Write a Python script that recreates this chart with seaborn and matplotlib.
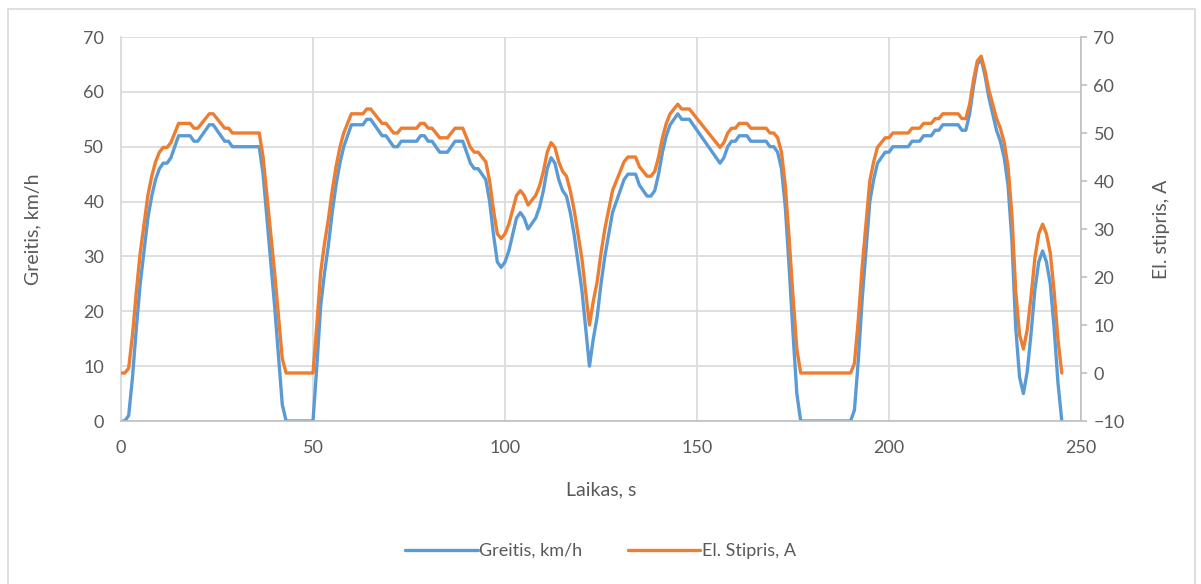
import numpy as np
import pandas as pd
import matplotlib
matplotlib.use("Agg")
import matplotlib.pyplot as plt
from matplotlib.patches import Rectangle
from matplotlib.lines import Line2D
import seaborn as sns

# ---- data ----
time_s = list(range(0, 246))

speed_kmh = [
    0, 0, 1, 8, 17, 25, 31, 37, 41, 44,            # 0-9
    46, 47, 47, 48, 50, 52, 52, 52, 52, 51,        # 10-19
    51, 52, 53, 54, 54, 53, 52, 51, 51, 50,        # 20-29
    50, 50, 50, 50, 50, 50, 50, 45, 37, 29,        # 30-39
    21, 12, 3, 0, 0, 0, 0, 0, 0, 0,                # 40-49
    0, 10, 21, 27, 32, 38, 43, 47, 50, 52,         # 50-59
    54, 54, 54, 54, 55, 55, 54, 53, 52, 52,        # 60-69
    51, 50, 50, 51, 51, 51, 51, 51, 52, 52,        # 70-79
    51, 51, 50, 49, 49, 49, 50, 51, 51, 51,        # 80-89
    49, 47, 46, 46, 45, 44, 40, 34, 29, 28,        # 90-99
    29, 31, 34, 37, 38, 37, 35, 36, 37, 39,        # 100-109
    42, 46, 48, 47, 44, 42, 41, 38, 34, 29,        # 110-119
    24, 17, 10, 15, 19, 25, 30, 34, 38, 40,        # 120-129
    42, 44, 45, 45, 45, 43, 42, 41, 41, 42,        # 130-139
    45, 49, 52, 54, 55, 56, 55, 55, 55, 54,        # 140-149
    53, 52, 51, 50, 49, 48, 47, 48, 50, 51,        # 150-159
    51, 52, 52, 52, 51, 51, 51, 51, 51, 50,        # 160-169
    50, 49, 46, 39, 28, 16, 5, 0, 0, 0,            # 170-179
    0, 0, 0, 0, 0, 0, 0, 0, 0, 0,                  # 180-189
    0, 2, 11, 22, 31, 40, 44, 47, 48, 49,          # 190-199
    49, 50, 50, 50, 50, 50, 51, 51, 51, 52,        # 200-209
    52, 52, 53, 53, 54, 54, 54, 54, 54, 53,        # 210-219
    53, 56, 61, 65, 66, 63, 59, 56, 53, 51,        # 220-229
    48, 43, 33, 17, 8, 5, 9, 16, 24, 29,           # 230-239
    31, 29, 25, 17, 7, 0,                          # 240-245
]

current_a = [
    0, 0, 1, 8, 17, 25, 31, 37, 41, 44,
    46, 47, 47, 48, 50, 52, 52, 52, 52, 51,
    51, 52, 53, 54, 54, 53, 52, 51, 51, 50,
    50, 50, 50, 50, 50, 50, 50, 45, 37, 29,
    21, 12, 3, 0, 0, 0, 0, 0, 0, 0,
    0, 10, 21, 27, 32, 38, 43, 47, 50, 52,
    54, 54, 54, 54, 55, 55, 54, 53, 52, 52,
    51, 50, 50, 51, 51, 51, 51, 51, 52, 52,
    51, 51, 50, 49, 49, 49, 50, 51, 51, 51,
    49, 47, 46, 46, 45, 44, 40, 34, 29, 28,
    29, 31, 34, 37, 38, 37, 35, 36, 37, 39,
    42, 46, 48, 47, 44, 42, 41, 38, 34, 29,
    24, 17, 10, 15, 19, 25, 30, 34, 38, 40,
    42, 44, 45, 45, 45, 43, 42, 41, 41, 42,
    45, 49, 52, 54, 55, 56, 55, 55, 55, 54,
    53, 52, 51, 50, 49, 48, 47, 48, 50, 51,
    51, 52, 52, 52, 51, 51, 51, 51, 51, 50,
    50, 49, 46, 39, 28, 16, 5, 0, 0, 0,
    0, 0, 0, 0, 0, 0, 0, 0, 0, 0,
    0, 2, 11, 22, 31, 40, 44, 47, 48, 49,
    49, 50, 50, 50, 50, 50, 51, 51, 51, 52,
    52, 52, 53, 53, 54, 54, 54, 54, 54, 53,
    53, 56, 61, 65, 66, 63, 59, 56, 53, 51,
    48, 43, 33, 17, 8, 5, 9, 16, 24, 29,
    31, 29, 25, 17, 7, 0,
]

x_ticks = [0, 50, 100, 150, 200, 250]
left_ticks = [0, 10, 20, 30, 40, 50, 60, 70]
right_ticks = [-10, 0, 10, 20, 30, 40, 50, 60, 70]

label_speed = "Greitis, km/h"
label_current = "El. Stipris, A"
x_label = "Laikas, s"
right_label = "El. stipris, A"

# ---- style ----
sns.set_theme(style="white")
plt.rcParams["font.family"] = ["Lato", "DejaVu Sans"]

BLUE = "#5B9BD5"
ORANGE = "#ED7D31"
GRID = "#D9D9D9"
TEXT = "#595959"

df = pd.DataFrame({"t": time_s, "speed": speed_kmh, "current": current_a})

fig = plt.figure(figsize=(12.01, 5.84), dpi=100)
ax = fig.add_axes([121 / 1201, 1 - 421 / 584, (1081 - 121) / 1201, (421 - 37) / 584])
ax2 = ax.twinx()

sns.lineplot(data=df, x="t", y="speed", ax=ax, color=BLUE, linewidth=2.4, legend=False)
sns.lineplot(data=df, x="t", y="current", ax=ax2, color=ORANGE, linewidth=2.4, legend=False)

ax.set_xlim(0, 250)
ax.set_ylim(0, 70)
ax2.set_ylim(-10, 70)
ax.set_xticks(x_ticks)
ax.set_yticks(left_ticks)
ax2.set_yticks(right_ticks)

ax.grid(True, color=GRID, linewidth=1.2)
ax.set_axisbelow(True)
ax2.grid(False)

ax.spines["top"].set_visible(False)
ax2.spines["top"].set_visible(False)
ax.spines["left"].set_color(GRID)
ax.spines["bottom"].set_color("#BFBFBF")
ax.spines["bottom"].set_linewidth(1.2)
ax.spines["right"].set_visible(False)
ax2.spines["left"].set_visible(False)
ax2.spines["bottom"].set_visible(False)
ax2.spines["right"].set_color("#BFBFBF")
ax2.spines["right"].set_linewidth(1.2)

ax.tick_params(axis="both", length=0, labelsize=13, labelcolor=TEXT)
ax.tick_params(axis="y", pad=12)
ax.tick_params(axis="x", pad=14)
ax2.tick_params(axis="y", length=4, width=1.2, color="#BFBFBF", labelsize=13,
                labelcolor=TEXT, pad=5, direction="out")

ax.set_xlabel(x_label, fontsize=14, color=TEXT, labelpad=18)
ax.set_ylabel(label_speed, fontsize=14, color=TEXT, labelpad=30)
ax2.set_ylabel(right_label, fontsize=14, color=TEXT, labelpad=20, rotation=90)

handles = [Line2D([], [], color=BLUE, linewidth=2.4),
           Line2D([], [], color=ORANGE, linewidth=2.4)]
fig.legend(handles, [label_speed, label_current], loc="center",
           bbox_to_anchor=(0.5, 1 - 551 / 584), ncol=2, frameon=False,
           fontsize=13, labelcolor=TEXT, handlelength=4, handletextpad=0.1,
           columnspacing=2.5)

fig.patches.append(Rectangle((8 / 1201, -0.02), (1195 - 8) / 1201, 1 - 9 / 584 + 0.02,
                             transform=fig.transFigure, fill=False,
                             edgecolor=GRID, linewidth=1.2, zorder=-1))

fig.savefig("out.png", dpi=100, facecolor="white")
